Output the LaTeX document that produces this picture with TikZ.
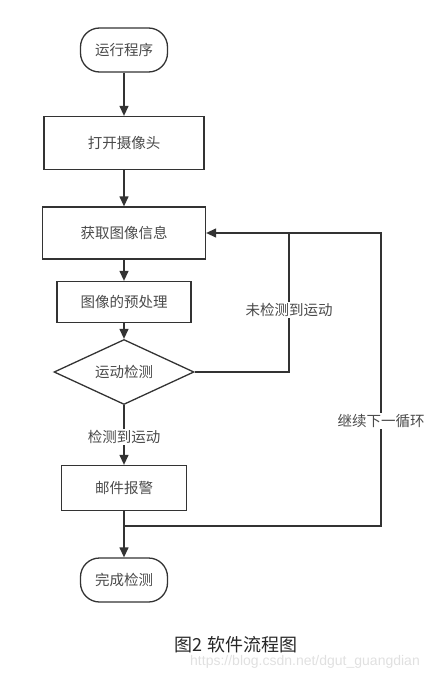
\documentclass[tikz,border=0pt]{standalone}
\usepackage{fontspec}
\newfontfamily\cjk{Noto Sans CJK SC}
\setmainfont{Liberation Sans}
\usetikzlibrary{shapes.geometric,arrows.meta}
\definecolor{linegray}{HTML}{333333}
\definecolor{textgray}{HTML}{4A4A4A}
\tikzset{
  base/.style={draw=linegray,line width=1.3pt,inner sep=0pt,text=textgray,font=\cjk\fontsize{14.5}{16}\selectfont},
  procbox/.style={base,rectangle},
  termbox/.style={base,rectangle,rounded corners=19pt,minimum width=87pt,minimum height=44pt},
  decbox/.style={base,diamond,aspect=2,minimum width=140pt,minimum height=65pt},
  flow/.style={draw=linegray,line width=1.3pt},
  arr/.style={flow,-{Triangle[length=10pt,width=9pt]}},
  lbl/.style={fill=white,inner sep=1pt,text=textgray,font=\cjk\fontsize{14.5}{16}\selectfont}
}

\begin{document}
\begin{tikzpicture}[x=1pt,y=-1pt]
\useasboundingbox (0,0) rectangle (444,674);
% nodes
\node[termbox] (start) at (124,50) {运行程序};
\node[procbox,minimum width=160pt,minimum height=53pt] (cam) at (124,143) {打开摄像头};
\node[procbox,minimum width=163pt,minimum height=52pt] (grab) at (124,233) {获取图像信息};
\node[procbox,minimum width=134pt,minimum height=41pt] (pre) at (124,302) {图像的预处理};
\node[decbox] (det) at (124,372) {运动检测};
\node[procbox,minimum width=125pt,minimum height=45pt] (alarm) at (124,488) {邮件报警};
\node[termbox] (done) at (124,580) {完成检测};
\coordinate (r1) at (289,233); \coordinate (r2) at (381,233);
\coordinate (j) at (124,526);
% connectors
\draw[arr] (start) -- (cam);
\draw[arr] (cam) -- (grab);
\draw[arr] (grab) -- (pre);
\draw[arr] (pre) -- (det);
\draw[arr] (det) -- (alarm);
\draw[arr] (alarm) -- (done);
\draw[arr] (det.east) -| (r1) -- (grab.east);
\draw[flow] (j) -| (r2) -- (r1);
% labels
\node[lbl] (yes) at (124,437) {检测到运动};
\node[lbl] (no) at (289,310) {未检测到运动};
\node[lbl] (loop) at (381,421) {继续下一循环};
\node[text=black!85,font=\cjk\fontsize{18}{20}\selectfont] (cap) at (236,645) {图2\ 软件流程图};
\node[text=black!12,font=\fontsize{14}{16}\selectfont] (wm) at (305,662) {https://blog.csdn.net/dgut\_guangdian};
\end{tikzpicture}
\end{document}
